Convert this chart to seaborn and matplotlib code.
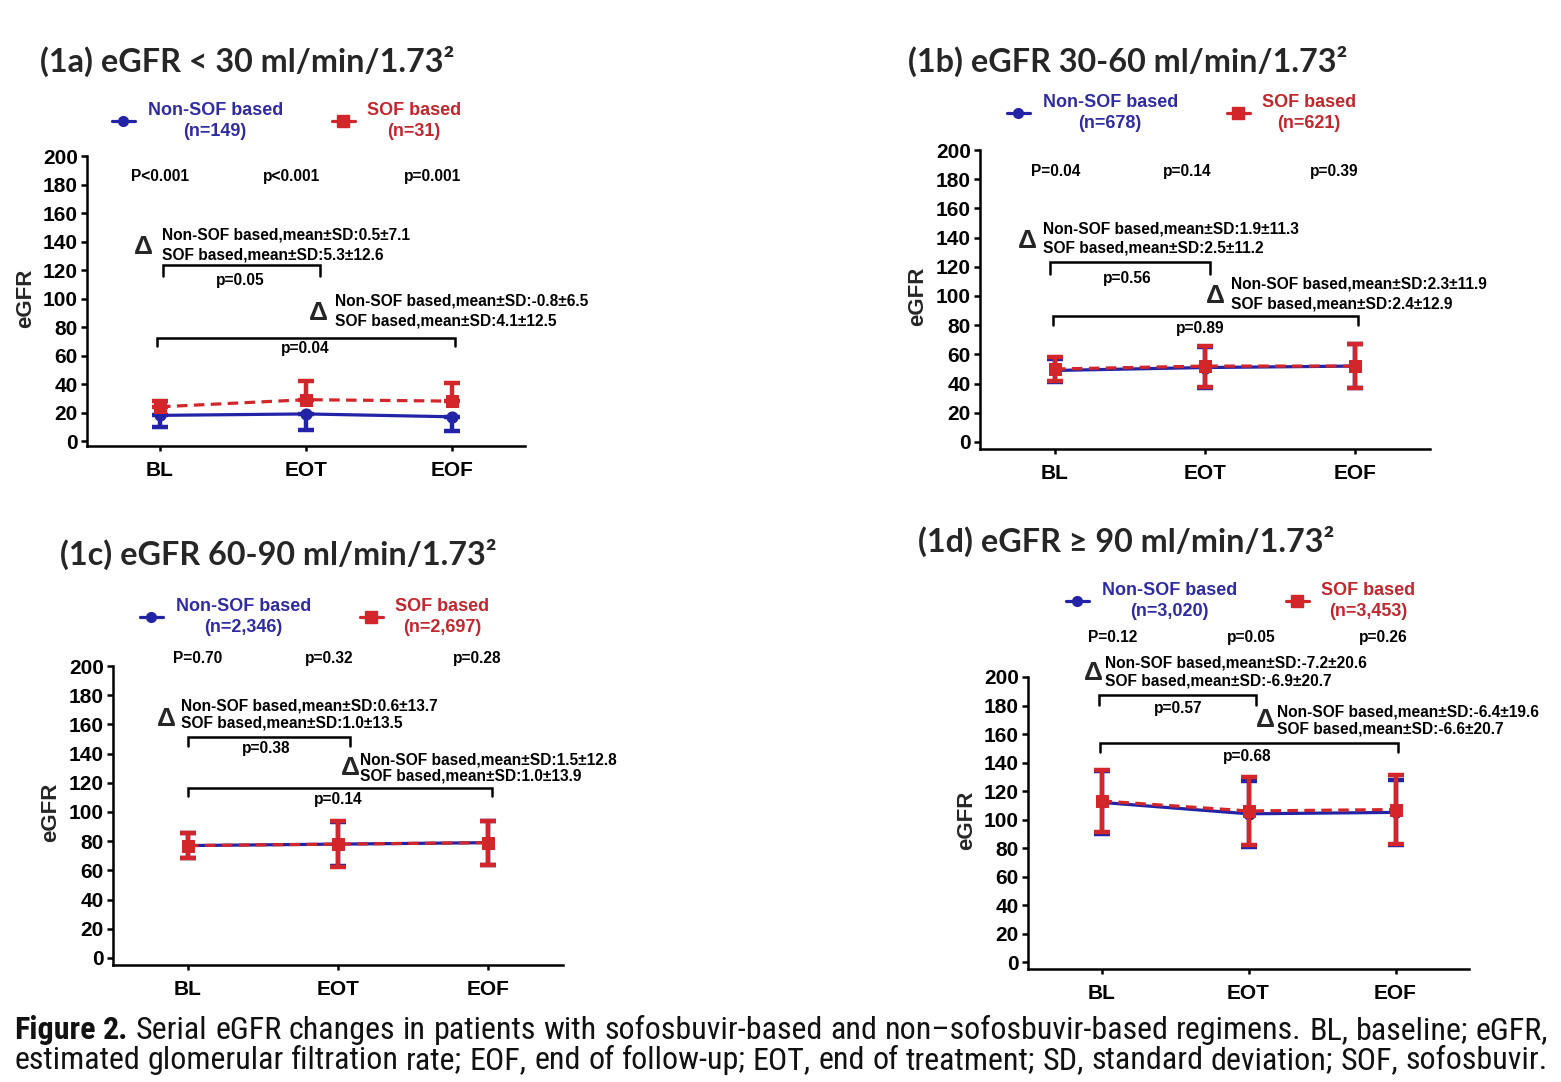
import os
import numpy as np
import pandas as pd
import seaborn as sns
import matplotlib
matplotlib.use("Agg")
import matplotlib.pyplot as plt
from matplotlib.lines import Line2D
from matplotlib import font_manager
from matplotlib.font_manager import FontProperties

# ---------------- data ----------------
timepoints = ["BL", "EOT", "EOF"]
groups = ["Non-SOF based", "SOF based"]

a_non_mean = [18, 19, 17]
a_non_sd = [8, 11, 10]
a_sof_mean = [24, 29, 28]
a_sof_sd = [4, 13, 13]

b_non_mean = [49, 51, 52]
b_non_sd = [8, 14, 15]
b_sof_mean = [50, 52, 52]
b_sof_sd = [8, 14, 15]

c_non_mean = [77, 78, 79]
c_non_sd = [8.5, 15, 15]
c_sof_mean = [77, 78, 79]
c_sof_sd = [8.5, 15.5, 15]

d_non_mean = [112, 104, 105]
d_non_sd = [22, 23, 23]
d_sof_mean = [113, 106, 107]
d_sof_sd = [22, 24, 24]

titles = ["(1a) eGFR < 30 ml/min/1.73\u00b2", "(1b) eGFR 30-60 ml/min/1.73\u00b2",
          "(1c) eGFR 60-90 ml/min/1.73\u00b2", "(1d) eGFR \u2265 90 ml/min/1.73\u00b2"]
n_non = ["(n=149)", "(n=678)", "(n=2,346)", "(n=3,020)"]
n_sof = ["(n=31)", "(n=621)", "(n=2,697)", "(n=3,453)"]
pvals = [["P<0.001", "p<0.001", "p=0.001"],
         ["P=0.04", "p=0.14", "p=0.39"],
         ["P=0.70", "p=0.32", "p=0.28"],
         ["P=0.12", "p=0.05", "p=0.26"]]
delta1 = [("Non-SOF based,mean\u00b1SD:0.5\u00b17.1", "SOF based,mean\u00b1SD:5.3\u00b112.6"),
          ("Non-SOF based,mean\u00b1SD:1.9\u00b111.3", "SOF based,mean\u00b1SD:2.5\u00b111.2"),
          ("Non-SOF based,mean\u00b1SD:0.6\u00b113.7", "SOF based,mean\u00b1SD:1.0\u00b113.5"),
          ("Non-SOF based,mean\u00b1SD:-7.2\u00b120.6", "SOF based,mean\u00b1SD:-6.9\u00b120.7")]
delta2 = [("Non-SOF based,mean\u00b1SD:-0.8\u00b16.5", "SOF based,mean\u00b1SD:4.1\u00b112.5"),
          ("Non-SOF based,mean\u00b1SD:2.3\u00b111.9", "SOF based,mean\u00b1SD:2.4\u00b112.9"),
          ("Non-SOF based,mean\u00b1SD:1.5\u00b112.8", "SOF based,mean\u00b1SD:1.0\u00b113.9"),
          ("Non-SOF based,mean\u00b1SD:-6.4\u00b119.6", "SOF based,mean\u00b1SD:-6.6\u00b120.7")]
bracket_p1 = ["p=0.05", "p=0.56", "p=0.38", "p=0.57"]
bracket_p2 = ["p=0.04", "p=0.89", "p=0.14", "p=0.68"]

caption_bold = "Figure 2."
caption_line1 = "Serial eGFR changes in patients with sofosbuvir-based and non\u2013sofosbuvir-based regimens. BL, baseline; eGFR,"
caption_line2 = "estimated glomerular filtration rate; EOF, end of follow-up; EOT, end of treatment; SD, standard deviation; SOF, sofosbuvir."

# ---------------- style ----------------
sns.set_theme(style="ticks")
AX_FONT = ["Liberation Sans", "DejaVu Sans"]
plt.rcParams["font.family"] = AX_FONT
plt.rcParams["font.weight"] = "bold"
BLUE = "#2323a8"
RED = "#d2262a"
BLUE_TXT = "#2f2ca3"
RED_TXT = "#c1272d"

W, H = 1561, 1082
fig = plt.figure(figsize=(W / 100, H / 100), dpi=100)
fig.patch.set_facecolor("white")


def fx(px):
    return px / W


def fy(py):
    return 1 - py / H


# axes boxes in pixels: left, right, top, bottom ; y value of bottom spine
boxes = [(87, 525, 156, 446, -3.5), (980, 1430, 150, 449, -4.8),
         (113, 563, 666, 965, -4.8), (1028, 1469, 677, 969, -4.9)]

means = [(a_non_mean, a_non_sd, a_sof_mean, a_sof_sd),
         (b_non_mean, b_non_sd, b_sof_mean, b_sof_sd),
         (c_non_mean, c_non_sd, c_sof_mean, c_sof_sd),
         (d_non_mean, d_non_sd, d_sof_mean, d_sof_sd)]

# annotation layout (data coords)
layout = [
    dict(px=[0, 0.904, 1.87], py=185.3,
         d1=(-0.116, 136.1, 0.014, 144.6, 130.5), d2=(1.082, 89.8, 1.199, 98.2, 84.2),
         b1=(0.02, 1.096, 123.5, 115.8, 0.548, 112.3), b2=(-0.02, 2.02, 72.3, 66.7, 0.993, 64.6),
         leg=(112, 121)),
    dict(px=[0.007, 0.88, 1.86], py=185.6,
         d1=(-0.187, 137.7, -0.08, 145.9, 132.9), d2=(1.067, 100.0, 1.173, 108.2, 94.5),
         b1=(-0.033, 1.033, 123.3, 115.1, 0.48, 112.3), b2=(-0.013, 2.02, 86.3, 80.1, 0.967, 78.0),
         leg=(1007, 113)),
    dict(px=[0.067, 0.94, 1.927], py=204.8,
         d1=(-0.147, 163.7, -0.047, 172.6, 161.0), d2=(1.08, 130.1, 1.147, 135.6, 124.7),
         b1=(0.0, 1.08, 151.4, 145.2, 0.52, 143.8), b2=(0.0, 2.027, 116.4, 111.0, 1.0, 108.9),
         leg=(140, 617)),
    dict(px=[0.075, 1.02, 1.918], py=228.0,
         d1=(-0.054, 202.8, 0.027, 209.8, 197.2), d2=(1.116, 169.8, 1.197, 175.4, 163.5),
         b1=(-0.02, 1.048, 187.4, 180.4, 0.524, 178.2), b2=(-0.007, 2.02, 153.7, 147.4, 0.99, 143.9),
         leg=(1066, 601)),
]

title_pos = [(40, 72), (908, 72), (60, 565), (918, 552)]

TXT = dict(fontsize=11.2, fontweight="bold", color="black", family=AX_FONT)

axes = []
for i in range(4):
    l, r, t, b, ybot = boxes[i]
    ax = fig.add_axes([fx(l), fy(b), (r - l) / W, (b - t) / H])
    axes.append(ax)
    non_m, non_sd, sof_m, sof_sd = means[i]
    pos = np.arange(len(timepoints))
    if i == 0:
        non_err = [non_sd, [0] * 3]
        sof_err = [[0] * 3, sof_sd]
    else:
        non_err = [non_sd, non_sd]
        sof_err = [sof_sd, sof_sd]
    ax.errorbar(pos, non_m, yerr=non_err, fmt="none", ecolor=BLUE, elinewidth=3.2,
                capsize=5.5, capthick=3.2, zorder=2)
    ax.errorbar(pos, sof_m, yerr=sof_err, fmt="none", ecolor=RED, elinewidth=3.2,
                capsize=5.5, capthick=3.2, zorder=4)
    n_before = len(ax.lines)
    df = pd.DataFrame({"pos": list(pos) * 2, "eGFR": list(non_m) + list(sof_m),
                       "group": [groups[0]] * 3 + [groups[1]] * 3})
    sns.lineplot(data=df, x="pos", y="eGFR", hue="group", style="group",
                 palette={groups[0]: BLUE, groups[1]: RED},
                 markers={groups[0]: "o", groups[1]: "s"},
                 dashes={groups[0]: "", groups[1]: (3.3, 2)},
                 linewidth=2.3, ax=ax, legend=False)
    new = ax.lines[n_before:]
    for ln, z, ms in zip(new, [3, 5], [8, 9]):
        ln.set_zorder(z)
        ln.set_markersize(ms)
        ln.set_markeredgecolor(ln.get_color())
        ln.set_markerfacecolor(ln.get_color())

    ax.set_xlim(-0.5, 2.5)
    ax.set_ylim(ybot, 200)
    ax.set_xticks(pos)
    ax.set_xticklabels(timepoints, fontsize=15, fontweight="bold")
    ax.set_yticks(np.arange(0, 201, 20))
    ax.set_yticklabels([str(v) for v in range(0, 201, 20)], fontsize=15, fontweight="bold")
    ax.set_xlabel("")
    ax.set_ylabel("eGFR", fontsize=16, fontweight="bold")
    ax.yaxis.set_label_coords(-0.116, 0.51)
    ax.spines[["top", "right"]].set_visible(False)
    for s in ["left", "bottom"]:
        ax.spines[s].set_linewidth(1.8)
        ax.spines[s].set_color("black")
    ax.tick_params(axis="y", length=4.5, width=1.8, pad=2, colors="black")
    ax.tick_params(axis="x", length=3.5, width=1.8, pad=7, colors="black")
    ax.set_facecolor("white")

    L = layout[i]
    for xp, ptxt in zip(L["px"], pvals[i]):
        ax.text(xp, L["py"], ptxt, ha="center", va="center", clip_on=False, **TXT)
    for d, txts in ((L["d1"], delta1[i]), (L["d2"], delta2[i])):
        ax.text(d[0], d[1], "\u0394", ha="center", va="center", fontsize=19,
                fontweight="bold", clip_on=False)
        ax.text(d[2], d[3], txts[0], ha="left", va="center", clip_on=False, **TXT)
        ax.text(d[2], d[4], txts[1], ha="left", va="center", clip_on=False, **TXT)
    for bkt, lab in ((L["b1"], bracket_p1[i]), (L["b2"], bracket_p2[i])):
        x0, x1, ytop, ybt, lx, ly = bkt
        ax.plot([x0, x0, x1, x1], [ybt, ytop, ytop, ybt], color="black", lw=1.8,
                clip_on=False, solid_joinstyle="miter")
        ax.text(lx, ly, lab, ha="center", va="center", clip_on=False, **TXT)

    # legend
    handles = [Line2D([], [], color=BLUE, marker="o", ms=7, lw=2.3),
               Line2D([], [], color=RED, marker="s", ms=8, lw=2.3)]
    labels = [groups[0] + "\n" + n_non[i], groups[1] + "\n" + n_sof[i]]
    lx, ly = L["leg"]
    leg = ax.legend(handles, labels, ncol=2, frameon=False, loc="center left",
                    bbox_to_anchor=(fx(lx), fy(ly)), bbox_transform=fig.transFigure,
                    borderpad=0, borderaxespad=0, handlelength=1.27, handletextpad=0.7,
                    columnspacing=2.7, numpoints=1,
                    prop=dict(family=AX_FONT, weight="bold", size=13))
    for txt, col in zip(leg.get_texts(), [BLUE_TXT, RED_TXT]):
        txt.set_color(col)
        txt.set_multialignment("center")
        txt.set_linespacing(1.35)

# titles
renderer = fig.canvas.get_renderer()
TITLE_FONT = ["Lato", "Open Sans", "DejaVu Sans"]
title_texts = []
for ttl, (tx, ty) in zip(titles, title_pos):
    tt = fig.text(fx(tx), fy(ty), ttl, ha="left", va="baseline", fontsize=22,
                  fontweight="bold", family=TITLE_FONT)
    title_texts.append(tt)
wb = title_texts[1].get_window_extent(renderer).width
fs_title = 22 * 438 / wb
for tt in title_texts:
    tt.set_fontsize(fs_title)


# caption font: prefer a condensed sans (like Helvetica Condensed)
def _wnum(w):
    if isinstance(w, str):
        return font_manager.weight_dict.get(w, 400)
    return w


def find_condensed(bold):
    order = ["liberationsansnarrow", "robotocondensed", "notosans", "opensans", "dejavusans"]
    best = None
    for f in font_manager.fontManager.ttflist:
        base = os.path.basename(f.fname).lower().replace("-", "").replace("_", "")
        if not ("narrow" in base or "condensed" in base):
            continue
        if "semi" in base or "extra" in base or "ultra" in base:
            continue
        if f.style != "normal" or "italic" in base or "oblique" in base:
            continue
        wn = _wnum(f.weight)
        if bold and wn < 650:
            continue
        if (not bold) and not (350 <= wn <= 450):
            continue
        rank = len(order)
        for k, key in enumerate(order):
            if base.startswith(key):
                rank = k
                break
        if best is None or rank < best[0]:
            best = (rank, f.fname)
    return best[1] if best else None


reg_file = find_condensed(False)
bold_file = find_condensed(True)
if reg_file:
    cap_reg = FontProperties(fname=reg_file)
else:
    cap_reg = FontProperties(family="Liberation Sans", weight="normal")
if bold_file:
    cap_bold = FontProperties(fname=bold_file)
elif reg_file:
    cap_bold = FontProperties(fname=reg_file)
else:
    cap_bold = FontProperties(family="Liberation Sans", weight="bold")


def mk(fp, size):
    p = fp.copy()
    p.set_size(size)
    return p


probe_b = fig.text(0, 0, caption_bold + " ", fontproperties=mk(cap_bold, 18))
probe_r = fig.text(0, 0, caption_line1, fontproperties=mk(cap_reg, 18))
wtot = probe_b.get_window_extent(renderer).width + probe_r.get_window_extent(renderer).width
probe_b.remove()
probe_r.remove()
fs_cap = 18 * 1530 / wtot


def justify(words, fps, y, x0=14, x1=1548):
    items = []
    for w, fp in zip(words, fps):
        t = fig.text(0, fy(y), w, fontproperties=mk(fp, fs_cap), ha="left", va="baseline",
                     color="#111111")
        items.append((t, t.get_window_extent(renderer).width))
    total = sum(w for _, w in items)
    gap = (x1 - x0 - total) / (len(items) - 1)
    x = x0
    for t, w in items:
        t.set_x(fx(x))
        x += w + gap


w1 = caption_bold.split() + caption_line1.split()
fp1 = [cap_bold] * len(caption_bold.split()) + [cap_reg] * len(caption_line1.split())
justify(w1, fp1, 1039)
w2 = caption_line2.split()
justify(w2, [cap_reg] * len(w2), 1069)

fig.savefig("out.png", dpi=100, facecolor="white")
